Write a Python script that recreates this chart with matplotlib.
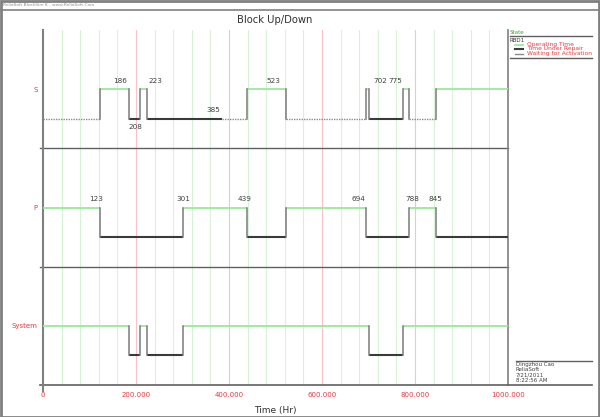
import matplotlib
matplotlib.use("Agg")
import matplotlib.pyplot as plt
from matplotlib.lines import Line2D
from matplotlib.patches import Rectangle

plt.rcParams['font.family'] = ['DejaVu Sans']

# ---------------- data ----------------
components = ["S", "P", "System"]

S_times = [0, 123, 186, 208, 223, 385, 439, 523, 694, 702, 775, 788, 845, 1000]
S_states = ["wait", "up", "repair", "up", "repair", "wait", "up", "wait",
            "up", "repair", "up", "wait", "up"]

P_times = [0, 123, 301, 439, 523, 694, 788, 845, 1000]
P_states = ["up", "repair", "up", "repair", "up", "repair", "up", "repair"]

Sys_times = [0, 186, 208, 223, 301, 702, 775, 1000]
Sys_states = ["up", "repair", "up", "repair", "up", "repair", "up"]

S_labels = [186, 208, 223, 385, 523, 702, 775]
S_label_pos = ["above_high", "below_low", "above_high", "above_low",
               "above_high", "above_high", "above_high"]
S_label_dx = [-7, -3, 6, -6, -9, 8, -6]

P_labels = [123, 301, 439, 694, 788, 845]
P_label_pos = ["above_high"] * 6
P_label_dx = [-3, 0, -2, -5, 2, 0]

xticks = [0, 200, 400, 600, 800, 1000]
xtick_labels = ["0", "200.000", "400.000", "600.000", "800.000", "1000.000"]

legend_items = ["Operating Time", "Time Under Repair", "Waiting for Activation"]
info_lines = ["Dingzhou Cao", "ReliaSoft", "7/21/2011", "8:22:56 AM"]

# ---------------- styles ----------------
W, H = 600, 417
def fx(px): return px / W
def fy(py): return 1 - py / H

UP_C = "#9be89b"
REP_C = "#3a3a3a"
WAIT_C = "#8a8a8a"
VERT_C = "#7a7a7a"
RED = "#e8393f"
GRAY = "#808080"
TXT = "#404040"

fig = plt.figure(figsize=(6, 4.17), dpi=100)
ax = fig.add_axes([fx(43), fy(385), fx(508) - fx(43), fy(30) - fy(385)])
ax.set_xlim(0, 1000)
ax.set_ylim(0, 12)

# grid lines
for g in range(40, 1000, 40):
    c = "#f6c4c4" if g % 200 == 0 else "#d6f3d6"
    ax.axvline(g, color=c, lw=0.8, zorder=0)

# panel separators
for yy in [4, 8]:
    ax.plot([-7, 1000], [yy, yy], color="#606060", lw=1.0, clip_on=False, zorder=1)

def level(k):
    top = 12 - 4 * k
    return top - 2, top - 3  # up, down

def draw_comp(k, times, states):
    hi, lo = level(k)
    prev_y = None
    for i, st in enumerate(states):
        x0, x1 = times[i], times[i + 1]
        y = hi if st == "up" else lo
        if st == "up":
            ax.plot([x0, x1], [y, y], color=UP_C, lw=1.3, zorder=3, solid_capstyle="butt")
        elif st == "repair":
            ax.plot([x0, x1], [y, y], color=REP_C, lw=1.5, zorder=3, solid_capstyle="butt")
        else:
            ax.plot([x0, x1], [y, y], color=WAIT_C, lw=1.0, ls=(0, (1, 0.8)), zorder=3)
        if prev_y is not None and prev_y != y:
            ax.plot([x0, x0], [lo, hi], color=VERT_C, lw=1.1, zorder=4)
        prev_y = y

draw_comp(0, S_times, S_states)
draw_comp(1, P_times, P_states)
draw_comp(2, Sys_times, Sys_states)

def draw_labels(k, vals, poss, dxs):
    hi, lo = level(k)
    for v, p, dx in zip(vals, poss, dxs):
        if p == "above_high":
            y, off, va = hi, 4, "bottom"
        elif p == "above_low":
            y, off, va = lo, 4, "bottom"
        else:
            y, off, va = lo, -4, "top"
        ax.annotate(str(v), (v, y), xytext=(dx, off), textcoords="offset points",
                    ha="center", va=va, fontsize=5.2, color=TXT, zorder=5)

draw_labels(0, S_labels, S_label_pos, S_label_dx)
draw_labels(1, P_labels, P_label_pos, P_label_dx)

# axes styling
for s in ["top", "bottom"]:
    ax.spines[s].set_visible(False)
ax.spines["left"].set_color(GRAY)
ax.spines["left"].set_linewidth(1.5)
ax.spines["right"].set_color(GRAY)
ax.spines["right"].set_linewidth(1.2)

ax.set_yticks([level(k)[0] for k in range(3)])
ax.set_yticklabels(components, color=RED, fontsize=5)
ax.tick_params(axis="y", length=0, pad=4)
ax.set_xticks(xticks)
ax.set_xticklabels(xtick_labels, color=RED, fontsize=5)
ax.tick_params(axis="x", length=0, pad=5)
ax.set_xlabel("Time (Hr)", fontsize=6.5, color="#303030", labelpad=6)

# extended axis lines
fig.add_artist(Line2D([fx(40), fx(592)], [fy(385), fy(385)], color="#606060", lw=1.2))
fig.add_artist(Line2D([fx(43), fx(43)], [fy(385), fy(391)], color=GRAY, lw=1.5))

# title and header
fig.text(fx(275), fy(20), "Block Up/Down", ha="center", va="center", fontsize=7.2, color="#303030")
fig.text(fx(3), fy(4.5), "ReliaSoft BlockSim 8 - www.ReliaSoft.Com", ha="left", va="center",
         fontsize=3.2, color="#909090")
fig.add_artist(Line2D([0, 1], [fy(9.5), fy(9.5)], color=GRAY, lw=1.2))
fig.add_artist(Rectangle((0.001, 0.001), 0.997, 0.997, fill=False, edgecolor=GRAY, lw=2,
                         transform=fig.transFigure))

# legend panel
fig.text(fx(510), fy(32), "State", fontsize=4, color="#3aa03a", ha="left", va="center")
fig.add_artist(Line2D([fx(510), fx(592)], [fy(35.5), fy(35.5)], color="#606060", lw=1.0))
fig.text(fx(510), fy(40), "RBD1", fontsize=4, color="#303030", ha="left", va="center")
leg_styles = [dict(color=UP_C, lw=1.3), dict(color=REP_C, lw=1.5),
              dict(color=WAIT_C, lw=1.0)]
for i, (lab, st) in enumerate(zip(legend_items, leg_styles)):
    yy = 45 + 4.3 * i
    fig.add_artist(Line2D([fx(515), fx(523)], [fy(yy), fy(yy)], **st))
    fig.text(fx(527), fy(yy - 0.5), lab, fontsize=4.3, color=RED, ha="left", va="center")
fig.add_artist(Line2D([fx(510), fx(592)], [fy(57.5), fy(57.5)], color="#606060", lw=1.0))

# info panel
fig.add_artist(Line2D([fx(516), fx(592)], [fy(360.5), fy(360.5)], color="#606060", lw=1.0))
for i, t in enumerate(info_lines):
    fig.text(fx(516), fy(364.5 + 5.2 * i), t, fontsize=4, color="#404040", ha="left", va="center")

fig.savefig("out.png", dpi=100)
